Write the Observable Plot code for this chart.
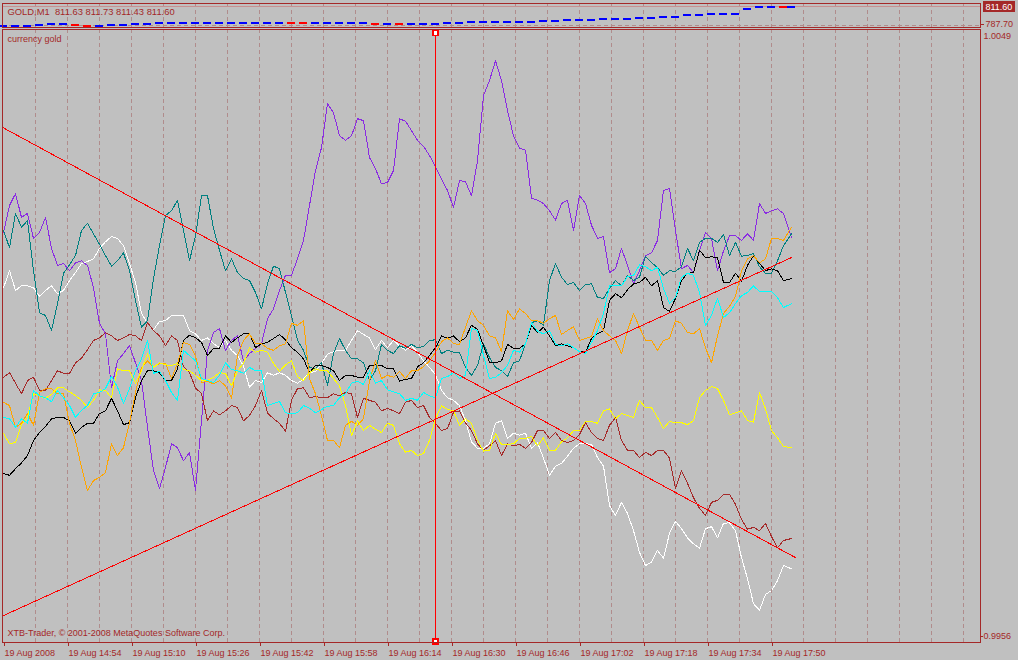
<!DOCTYPE html>
<html><head><meta charset="utf-8">
<script src="https://cdn.jsdelivr.net/npm/d3@7"></script>
<script src="https://cdn.jsdelivr.net/npm/@observablehq/plot@0.6"></script>
<style>
html,body{margin:0;padding:0;background:#c0c0c0;}
#chart{position:relative;width:1018px;height:660px;background:#c0c0c0;overflow:hidden;}
#chart svg{position:absolute;left:0;top:0;}
</style></head><body><div id="chart"></div>
<script>
// sample times: minutes since 14:38 (19 Aug 2008), every 1.5 min, last bar at 197
const minutes = [...d3.range(0, 196, 1.5), 197];

// currency index values, in units of 0.0001 around 1.0000
const purple = [18.3,22.4,24.2,20.6,21.2,17.4,18.3,20.6,15.9,13.3,
  13.6,12.5,13.7,14.0,13.3,9.9,4.5,2.9,-5.3,-1.2,
  -0.1,1.1,-1.5,-4.2,-11.3,-17.9,-20.6,-17.4,-13.8,-14.4,
  -16.4,-15.1,-20.9,-10.3,0.4,3.1,3.7,0.4,1.9,2.6,
  -1.2,-0.1,0.7,1.4,5.2,6.7,9.5,11.8,11.8,14.3,
  17.1,22.4,27.7,31.2,37.9,36.5,33.0,32.3,33.0,35.6,
  35.3,29.7,28.0,25.7,25.9,27.7,35.6,35.2,33.8,32.3,
  31.4,30.0,28.3,26.4,24.7,22.1,26.2,26.0,23.9,29.2,
  39.1,41.4,44.4,41.4,36.8,33.0,31.1,30.8,23.5,23.2,
  22.7,21.6,20.2,22.7,23.2,18.6,23.9,22.7,19.4,17.4,
  17.7,12.2,12.8,15.9,13.3,10.5,12.5,14.8,15.2,17.1,
  24.7,25.0,18.6,12.8,13.3,12.2,15.5,18.3,17.4,12.5,
  15.5,17.8,17.8,17.1,18.1,17.1,22.7,21.2,21.6,21.9,
  21.2,17.5];
const teal = [18.6,16.0,21.2,19.1,20.1,12.5,6.1,5.7,3.4,7.5,
  12.1,13.4,14.8,18.6,19.7,18.1,16.5,14.8,13.2,14.0,
  15.2,12.5,8.0,3.9,4.9,11.3,16.3,20.9,21.6,23.2,
  18.6,14.0,17.8,23.9,23.9,18.9,15.6,12.5,14.3,12.2,
  11.3,11.0,9.2,6.7,10.5,13.2,12.8,9.2,5.7,1.9,
  0.4,-2.2,-2.4,-1.5,-4.9,-0.1,2.2,0.4,-0.9,-0.9,
  -1.5,-4.2,-2.7,1.3,0.4,-0.1,1.1,0.7,1.3,0.8,
  1.0,1.9,2.0,-0.1,0.4,0.1,0.1,-2.2,-3.4,-1.9,
  1.4,-0.7,-2.2,-2.7,-3.6,-1.5,-1.2,1.4,4.6,4.9,
  4.2,11.0,13.6,11.5,10.4,10.7,9.5,10.4,10.5,8.4,
  8.3,9.8,11.0,10.2,11.8,11.0,11.5,14.7,13.7,13.0,
  11.8,12.5,12.4,13.1,15.9,14.0,16.8,17.4,17.4,16.8,
  18.0,14.8,16.8,14.7,14.8,15.1,13.1,12.1,12.1,14.0,
  16.3,18.1];
const white = [9.9,12.5,9.5,10.2,10.2,9.9,8.6,9.5,10.2,9.0,
  9.5,11.0,12.2,13.6,13.9,14.3,15.9,16.9,17.7,17.4,
  16.3,13.6,10.7,6.0,4.5,3.5,4.8,4.9,5.7,5.7,
  5.7,3.4,2.9,1.9,2.3,1.4,0.8,1.9,0.4,-0.4,
  -2.0,-5.2,-4.2,-4.5,-3.0,-3.4,-3.0,-3.4,-4.2,-4.6,
  -4.0,-3.0,-2.8,-1.6,-0.2,0.2,0.4,0.4,1.9,3.4,
  2.8,2.3,0.5,1.9,0.8,1.9,1.1,0.4,1.1,0.1,
  -1.2,-2.2,-3.3,-5.7,-6.8,-7.2,-8.0,-10.3,-13.5,-14.5,
  -14.5,-13.8,-10.7,-10.3,-13.0,-12.2,-12.5,-12.2,-14.5,-13.6,
  -16.0,-18.6,-17.2,-16.8,-15.7,-14.5,-13.8,-13.8,-13.9,-15.9,
  -17.2,-23.2,-24.7,-22.7,-24.4,-27.0,-30.3,-32.3,-31.8,-30.0,
  -31.2,-27.4,-25.6,-26.7,-28.1,-29.0,-29.7,-26.7,-26.4,-28.1,
  -25.9,-25.8,-27.0,-31.1,-34.3,-38.1,-39.1,-36.7,-36.1,-34.6,
  -32.3,-32.8];
const brown = [-3.7,-3.0,-4.6,-6.2,-4.2,-3.7,-5.7,-5.7,-4.2,-2.7,
  -3.1,-3.1,-1.5,-0.8,0.5,1.9,2.3,3.1,2.6,1.9,
  2.3,2.8,2.6,1.9,4.6,3.4,2.6,1.1,2.6,1.9,
  -2.1,-3.0,-5.3,-6.2,-10.3,-8.8,-9.4,-8.8,-8.0,-8.3,
  -10.3,-9.5,-8.0,-5.7,-9.1,-10.0,-10.7,-11.9,-7.2,-5.4,
  -5.3,-6.8,-6.6,-6.8,-6.8,-6.2,-6.5,-6.0,-6.2,-9.8,
  -6.9,-7.2,-7.5,-8.8,-8.4,-8.8,-9.2,-7.5,-7.2,-8.3,
  -8.0,-9.8,-10.7,-11.8,-11.5,-9.0,-8.8,-10.6,-11.8,-13.8,
  -14.8,-14.1,-13.3,-15.6,-13.8,-14.1,-13.9,-14.5,-13.6,-11.8,
  -11.8,-13.0,-12.1,-13.3,-13.6,-13.3,-12.4,-10.6,-12.1,-13.0,
  -13.3,-11.0,-9.8,-13.3,-14.8,-14.8,-15.9,-15.1,-15.6,-14.8,
  -14.8,-16.0,-20.6,-17.9,-19.8,-22.0,-23.6,-24.7,-22.7,-22.4,
  -21.5,-21.5,-23.0,-25.3,-26.8,-26.5,-27.0,-25.9,-27.9,-29.6,
  -28.5,-28.2];
const black = [-18.3,-18.6,-17.6,-16.7,-15.6,-13.3,-12.1,-11.2,-10.0,-9.8,
  -9.8,-10.3,-12.2,-11.3,-10.7,-10.7,-9.2,-8.8,-6.9,-8.8,
  -10.9,-10.6,-6.8,-4.2,-2.7,-2.7,-3.0,-4.2,-4.2,-2.4,
  1.9,2.7,2.3,1.6,-0.4,0.7,0.7,2.6,1.6,2.3,
  2.9,2.9,0.8,1.4,1.6,2.2,2.8,2.0,0.8,0.1,
  -0.9,-3.0,-1.9,-1.9,-2.2,-2.7,-4.2,-3.4,-3.4,-3.7,
  -3.7,-1.9,-1.8,-1.9,-2.4,-2.4,-4.3,-4.0,-3.9,-2.1,
  -1.5,-0.4,0.8,2.6,2.2,2.6,1.7,2.3,4.2,3.6,
  1.1,-1.4,-1.5,-1.2,1.3,0.7,0.7,1.4,4.2,3.1,
  3.9,2.6,1.1,1.4,1.1,0.8,0.2,0.1,2.2,2.9,
  3.4,8.0,9.0,8.4,9.6,10.5,10.7,11.5,10.2,11.0,
  6.9,6.3,8.3,11.0,12.1,12.2,15.6,14.5,14.6,14.5,
  10.7,10.7,12.1,10.9,13.3,14.8,13.6,12.5,12.8,12.5,
  11.0,11.3];
const orange = [-7.5,-8.0,-11.3,-10.7,-9.2,-11.0,-6.0,-5.4,-5.4,-6.2,
  -6.2,-10.7,-13.3,-17.4,-20.9,-19.4,-18.9,-18.2,-13.8,-15.6,
  -14.4,-10.6,-6.0,-2.2,-1.2,-2.2,-1.6,-1.6,-3.9,-1.6,
  1.6,1.3,-0.4,-4.5,-4.3,-4.7,-4.2,-5.0,-6.9,-0.4,
  1.9,2.9,1.4,1.4,0.7,0.4,1.1,1.4,4.5,4.2,
  4.9,-3.9,-6.2,-9.5,-13.3,-13.3,-14.4,-11.0,-10.4,-11.0,
  -10.0,-4.2,-1.2,-3.9,-3.4,-3.7,-2.8,-3.9,-2.7,-2.7,
  -2.1,-1.2,0.1,1.7,2.3,1.4,1.3,3.9,6.4,4.9,
  4.2,2.6,2.3,0.2,6.4,5.1,6.7,6.0,4.9,4.9,
  4.5,5.2,5.7,2.8,3.4,4.0,1.9,2.2,2.5,5.2,
  3.4,2.6,1.9,-0.1,3.4,6.0,3.9,1.9,1.9,0.4,
  1.9,2.2,4.9,4.5,3.1,2.9,3.7,0.8,-1.5,2.6,
  6.0,7.1,8.6,12.5,14.3,14.8,13.7,14.3,17.4,17.4,
  17.1,19.1];
const yellow = [-12.2,-13.8,-13.6,-10.9,-9.8,-6.2,-6.5,-6.9,-6.3,-5.3,
  -5.3,-5.9,-6.5,-7.2,-8.3,-7.2,-5.6,-5.7,-6.8,-2.4,
  -2.7,-2.7,-4.6,-2.7,-0.1,-2.2,-1.5,-1.8,-1.9,-1.6,
  -2.5,-2.7,-3.4,-4.2,-4.2,-3.7,-3.0,-3.1,-5.0,-2.7,
  -1.6,0.8,0.1,0.4,0.1,-1.6,-2.8,-1.8,-1.2,-3.6,
  -4.2,-3.0,-2.4,-2.7,-2.7,-3.9,-5.0,-8.0,-12.6,-10.3,
  -11.8,-11.0,-11.6,-12.1,-10.7,-11.0,-13.8,-15.1,-14.8,-15.6,
  -15.3,-13.3,-10.0,-8.0,-8.6,-8.8,-11.0,-10.0,-10.7,-13.3,
  -14.9,-14.8,-12.2,-13.9,-13.9,-13.8,-13.0,-13.0,-12.7,-14.1,
  -12.9,-14.8,-14.8,-13.5,-12.9,-11.8,-11.8,-10.4,-10.4,-10.7,
  -8.8,-8.5,-10.0,-9.2,-9.5,-9.8,-7.2,-8.3,-8.3,-9.8,
  -11.5,-10.4,-10.6,-10.6,-10.9,-10.3,-6.8,-5.7,-5.1,-5.4,
  -7.2,-9.4,-9.1,-8.8,-10.3,-10.5,-6.0,-8.5,-11.8,-12.9,
  -14.2,-14.4];
const cyan = [-9.8,-10.0,-11.3,-10.0,-10.7,-5.7,-6.5,-6.8,-7.4,-5.7,
  -6.8,-8.0,-9.8,-8.7,-8.0,-6.2,-6.0,-5.4,-3.6,-5.2,
  -7.7,-5.4,-2.7,-0.9,1.9,-3.1,-2.8,-4.2,-6.0,-7.2,
  0.4,-0.4,-1.2,-3.9,-4.2,-4.5,-3.4,-1.5,-2.5,-2.7,
  -3.1,-2.2,-2.7,-2.7,-8.0,-7.7,-7.4,-9.1,-9.2,-9.1,
  -8.0,-8.4,-9.1,-8.6,-8.1,-8.0,-6.8,-6.2,-4.6,-4.3,
  -4.8,-2.7,-4.6,-4.2,-5.6,-5.9,-6.2,-7.2,-6.9,-7.2,
  -6.0,-6.5,-6.8,-3.9,-3.6,-3.0,-3.9,-3.4,3.7,3.4,
  -0.4,-3.9,-3.7,-3.0,-1.9,0.4,0.1,1.4,4.6,3.3,
  2.9,3.4,1.3,1.1,1.4,0.8,0.2,-0.1,1.6,3.4,
  6.0,10.2,10.2,10.2,11.6,11.8,13.4,13.1,12.5,13.0,
  9.8,7.5,8.4,11.5,12.1,11.8,9.2,4.2,5.7,8.3,
  5.4,6.1,7.5,8.7,9.2,10.2,9.3,9.3,9.3,8.4,
  6.9,7.5];

// trend lines (minute, value in 0.0001 units)
const downTrendMin = [0, 198];
const downTrend = [34.2, -31.1];
const upTrendMin = [0, 197];
const upTrend = [-39.9, 14.5];
const cursorMinute = 108;

// GOLD M1 close prices (top window), every 3 minutes
const goldMinutes = [0,3,6,9,12,15,18,21,24,27,30,33,36,39,42,45,48,51,54,57,60,63,66,69,72,75,78,81,84,87,90,93,96,99,102,105,108,111,114,117,120,123,126,129,132,135,138,141,144,147,150,153,156,159,162,165,168,171,174,177,180,183,186,189,192,195,197];
const goldClose = [787.70,787.70,787.70,788.33,788.96,788.96,788.33,787.70,787.70,788.33,788.33,789.59,789.59,790.22,790.22,790.22,790.85,790.85,790.85,790.85,791.47,791.47,791.47,791.47,790.85,790.22,790.22,790.22,790.22,790.22,790.22,789.59,789.59,788.96,788.96,788.96,788.96,790.22,791.47,792.10,792.10,792.10,792.73,792.73,792.73,793.36,793.36,793.99,793.99,794.62,795.25,795.25,795.88,796.51,796.51,797.77,799.02,800.28,800.91,801.54,801.54,802.17,807.83,810.97,811.60,811.30,811.60];
const goldTitle = "GOLD,M1\u00a0\u00a0811.63 811.73 811.43 811.60";
const goldLast = 811.60;
const goldLow = 787.70;
const indexTop = 1.0049;
const indexBottom = 0.9956;

// time axis labels every 16 minutes
const labelMinutes = [0,16,32,48,64,80,96,112,128,144,160,176,192];
const timeLabels = ["19 Aug 2008","19 Aug 14:54","19 Aug 15:10","19 Aug 15:26","19 Aug 15:42","19 Aug 15:58","19 Aug 16:14","19 Aug 16:30","19 Aug 16:46","19 Aug 17:02","19 Aug 17:18","19 Aug 17:34","19 Aug 17:50"];

(function () {
const gridMinutes = d3.range(8, 241, 8);
const FG = "#a42828";
const GRID = "#b08c8c";
const DASH = "4,3";
const FONT = "'Liberation Sans', Arial, sans-serif";
const xDomain = [0, 244.25];

const seriesDefs = [
  {values: white, color: "#ffffff"},
  {values: purple, color: "#8a2be2"},
  {values: teal, color: "#008080"},
  {values: brown, color: "#a52a2a"},
  {values: black, color: "#000000"},
  {values: orange, color: "#ffa500"},
  {values: yellow, color: "#ffff00"},
  {values: cyan, color: "#00ffff"}
];
const toRate = bp => 1 + bp / 10000;
const lineMarks = seriesDefs.map(s =>
  Plot.line(s.values.map((b, i) => ({m: minutes[i], v: toRate(b)})),
    {x: "m", y: "v", stroke: s.color, strokeWidth: 1, shapeRendering: "crispEdges"}));
const trendData = (mins, vals) => mins.map((m, i) => ({m, v: toRate(vals[i])}));
const labelMap = new Map(labelMinutes.map((m, i) => [m, timeLabels[i]]));

const mainPlot = Plot.plot({
  width: 1018, height: 660,
  marginTop: 29, marginBottom: 18, marginLeft: 2, marginRight: 38,
  x: {domain: xDomain, range: [3, 980], label: null},
  y: {domain: [indexBottom, indexTop], range: [642, 30], label: null},
  style: {background: "transparent", color: FG, fontFamily: FONT, fontSize: "9px"},
  marks: [
    Plot.ruleX(gridMinutes, {stroke: GRID, strokeDasharray: DASH, shapeRendering: "crispEdges"}),
    ...lineMarks,
    Plot.line(trendData(downTrendMin, downTrend), {x: "m", y: "v", stroke: "#ff0000", strokeWidth: 1, shapeRendering: "crispEdges"}),
    Plot.line(trendData(upTrendMin, upTrend), {x: "m", y: "v", stroke: "#ff0000", strokeWidth: 1, shapeRendering: "crispEdges"}),
    Plot.ruleX([cursorMinute], {stroke: "#ff0000", insetTop: 5, insetBottom: 2, shapeRendering: "crispEdges"}),
    Plot.dot([cursorMinute], {x: d => d, frameAnchor: "top", dy: 3.5, symbol: "square", r: 2.6, fill: "#ffffff", stroke: "#ff0000", shapeRendering: "crispEdges"}),
    Plot.dot([cursorMinute], {x: d => d, frameAnchor: "bottom", dy: -1, symbol: "square", r: 2.6, fill: "#ffffff", stroke: "#ff0000", shapeRendering: "crispEdges"}),
    Plot.frame({stroke: FG, shapeRendering: "crispEdges"}),
    Plot.axisX({ticks: labelMinutes, tickFormat: d => labelMap.get(d), tickSize: 4, tickPadding: 3, textAnchor: "start", dx: 1, label: null, stroke: FG, fill: FG, shapeRendering: "crispEdges"}),
    Plot.axisY({anchor: "right", ticks: [indexTop], tickFormat: d3.format(".4f"), tickSize: 0, tickPadding: 3, dy: 6, label: null, fill: FG}),
    Plot.axisY({anchor: "right", ticks: [indexBottom], tickFormat: d3.format(".4f"), tickSize: 2, tickPadding: 1, dy: -6, label: null, fill: FG, stroke: FG}),
    Plot.text(["currency gold"], {frameAnchor: "top-left", dx: 5, dy: 6.6, lineAnchor: "top", textAnchor: "start", fill: FG}),
    Plot.text(["XTB-Trader, © 2001-2008 MetaQuotes Software Corp."], {frameAnchor: "top-left", dx: 5, dy: 600.6, lineAnchor: "top", textAnchor: "start", fill: FG})
  ]
});

const candles = goldClose.map((p, i) => ({m: goldMinutes[i], p, up: i === 0 ? true : p >= goldClose[i - 1]}));
const topPlot = Plot.plot({
  width: 1018, height: 30,
  marginTop: 3, marginBottom: 3, marginLeft: 2, marginRight: 38,
  x: {domain: xDomain, range: [3, 980], label: null, axis: null},
  y: {domain: [goldLow, goldLast], range: [25, 6], label: null},
  style: {background: "transparent", color: FG, fontFamily: FONT, fontSize: "9px"},
  marks: [
    Plot.ruleX(gridMinutes, {stroke: GRID, strokeDasharray: DASH, shapeRendering: "crispEdges"}),
    Plot.ruleY([goldLow], {stroke: GRID, strokeDasharray: DASH, shapeRendering: "crispEdges"}),
    Plot.ruleY([goldLast], {stroke: "#c89090", shapeRendering: "crispEdges"}),
    Plot.ruleY(candles.filter(d => d.up), {y: "p", x1: d => d.m - 1, x2: d => d.m + 1, stroke: "#0000ff", strokeWidth: 2, shapeRendering: "crispEdges"}),
    Plot.ruleY(candles.filter(d => !d.up), {y: "p", x1: d => d.m - 1, x2: d => d.m + 1, stroke: "#ff0000", strokeWidth: 2, shapeRendering: "crispEdges"}),
    Plot.frame({stroke: FG, shapeRendering: "crispEdges"}),
    Plot.text([goldTitle], {frameAnchor: "top-left", dx: 5, dy: 4.4, lineAnchor: "top", textAnchor: "start", fill: FG, fontSize: 9.4}),
    Plot.axisY({anchor: "right", ticks: [goldLow], tickFormat: d3.format(".2f"), tickSize: 3, tickPadding: 2, dy: -1, label: null, fill: FG, stroke: FG}),
    Plot.ruleY([goldLast], {insetLeft: 981, insetRight: -35, stroke: FG, strokeWidth: 11, shapeRendering: "crispEdges"}),
    Plot.text([goldLast], {frameAnchor: "top-right", dx: 5, dy: 0, lineAnchor: "top", textAnchor: "start", fill: "#ffffff", text: d => d.toFixed(2)})
  ]
});

const chart = document.getElementById("chart");
chart.appendChild(mainPlot);
chart.appendChild(topPlot);
})();
</script>
</body></html>
